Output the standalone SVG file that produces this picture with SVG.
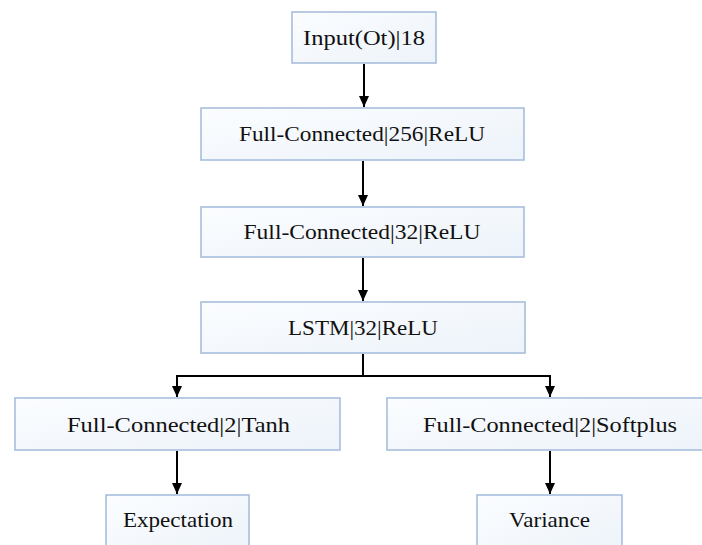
<svg xmlns="http://www.w3.org/2000/svg" width="702" height="545" viewBox="0 0 702 545">
<defs>
<linearGradient id="fill" x1="0" y1="0" x2="1" y2="1">
<stop offset="0" stop-color="#fbfdff"/>
<stop offset="1" stop-color="#edf3fa"/>
</linearGradient>
<marker id="arr" markerUnits="userSpaceOnUse" markerWidth="12" markerHeight="12" viewBox="0 0 12 12" refX="11" refY="6" orient="auto">
<path d="M0,1 L11,6 L0,11 Z" fill="#000"/>
</marker>
<style>
.box{fill:url(#fill);stroke:#a8bfdc;stroke-width:1.6}
.lbl{font-family:"Liberation Serif","DejaVu Serif",serif;font-size:21px;fill:#111;text-anchor:middle}
.c{fill:none;stroke:#000;stroke-width:2}
</style>
</defs>
<g id="input"><rect class="box" x="292" y="12" width="144" height="51"/><text class="lbl" x="364" y="45" textLength="122" lengthAdjust="spacingAndGlyphs">Input(Ot)|18</text></g>
<g id="fc256"><rect class="box" x="201" y="108" width="323" height="52"/><text class="lbl" x="362" y="141" textLength="246" lengthAdjust="spacingAndGlyphs">Full-Connected|256|ReLU</text></g>
<g id="fc32"><rect class="box" x="201" y="207" width="323" height="50"/><text class="lbl" x="362" y="239" textLength="237" lengthAdjust="spacingAndGlyphs">Full-Connected|32|ReLU</text></g>
<g id="lstm"><rect class="box" x="201" y="302" width="324" height="51"/><text class="lbl" x="363" y="335" textLength="150" lengthAdjust="spacingAndGlyphs">LSTM|32|ReLU</text></g>
<g id="fctanh"><rect class="box" x="15" y="398" width="325" height="52"/><text class="lbl" x="178.5" y="432" textLength="223" lengthAdjust="spacingAndGlyphs">Full-Connected|2|Tanh</text></g>
<g id="fcsoftplus"><rect class="box" x="387" y="398" width="320" height="52"/><text class="lbl" x="550" y="432" textLength="254" lengthAdjust="spacingAndGlyphs">Full-Connected|2|Softplus</text></g>
<g id="expectation"><rect class="box" x="106" y="495" width="143" height="60"/><text class="lbl" x="178" y="527" textLength="110" lengthAdjust="spacingAndGlyphs">Expectation</text></g>
<g id="variance"><rect class="box" x="477" y="495" width="145" height="60"/><text class="lbl" x="549.5" y="527" textLength="81" lengthAdjust="spacingAndGlyphs">Variance</text></g>
<g id="connectors">
<path class="c" d="M364,64 V107" marker-end="url(#arr)"/>
<path class="c" d="M363,161 V206" marker-end="url(#arr)"/>
<path class="c" d="M363,258 V301" marker-end="url(#arr)"/>
<path class="c" d="M363,354 V376"/>
<path class="c" d="M363,376 H177 V397" marker-end="url(#arr)"/>
<path class="c" d="M363,376 H550 V397" marker-end="url(#arr)"/>
<path class="c" d="M177,451 V494" marker-end="url(#arr)"/>
<path class="c" d="M550,451 V494" marker-end="url(#arr)"/>
</g>
</svg>
